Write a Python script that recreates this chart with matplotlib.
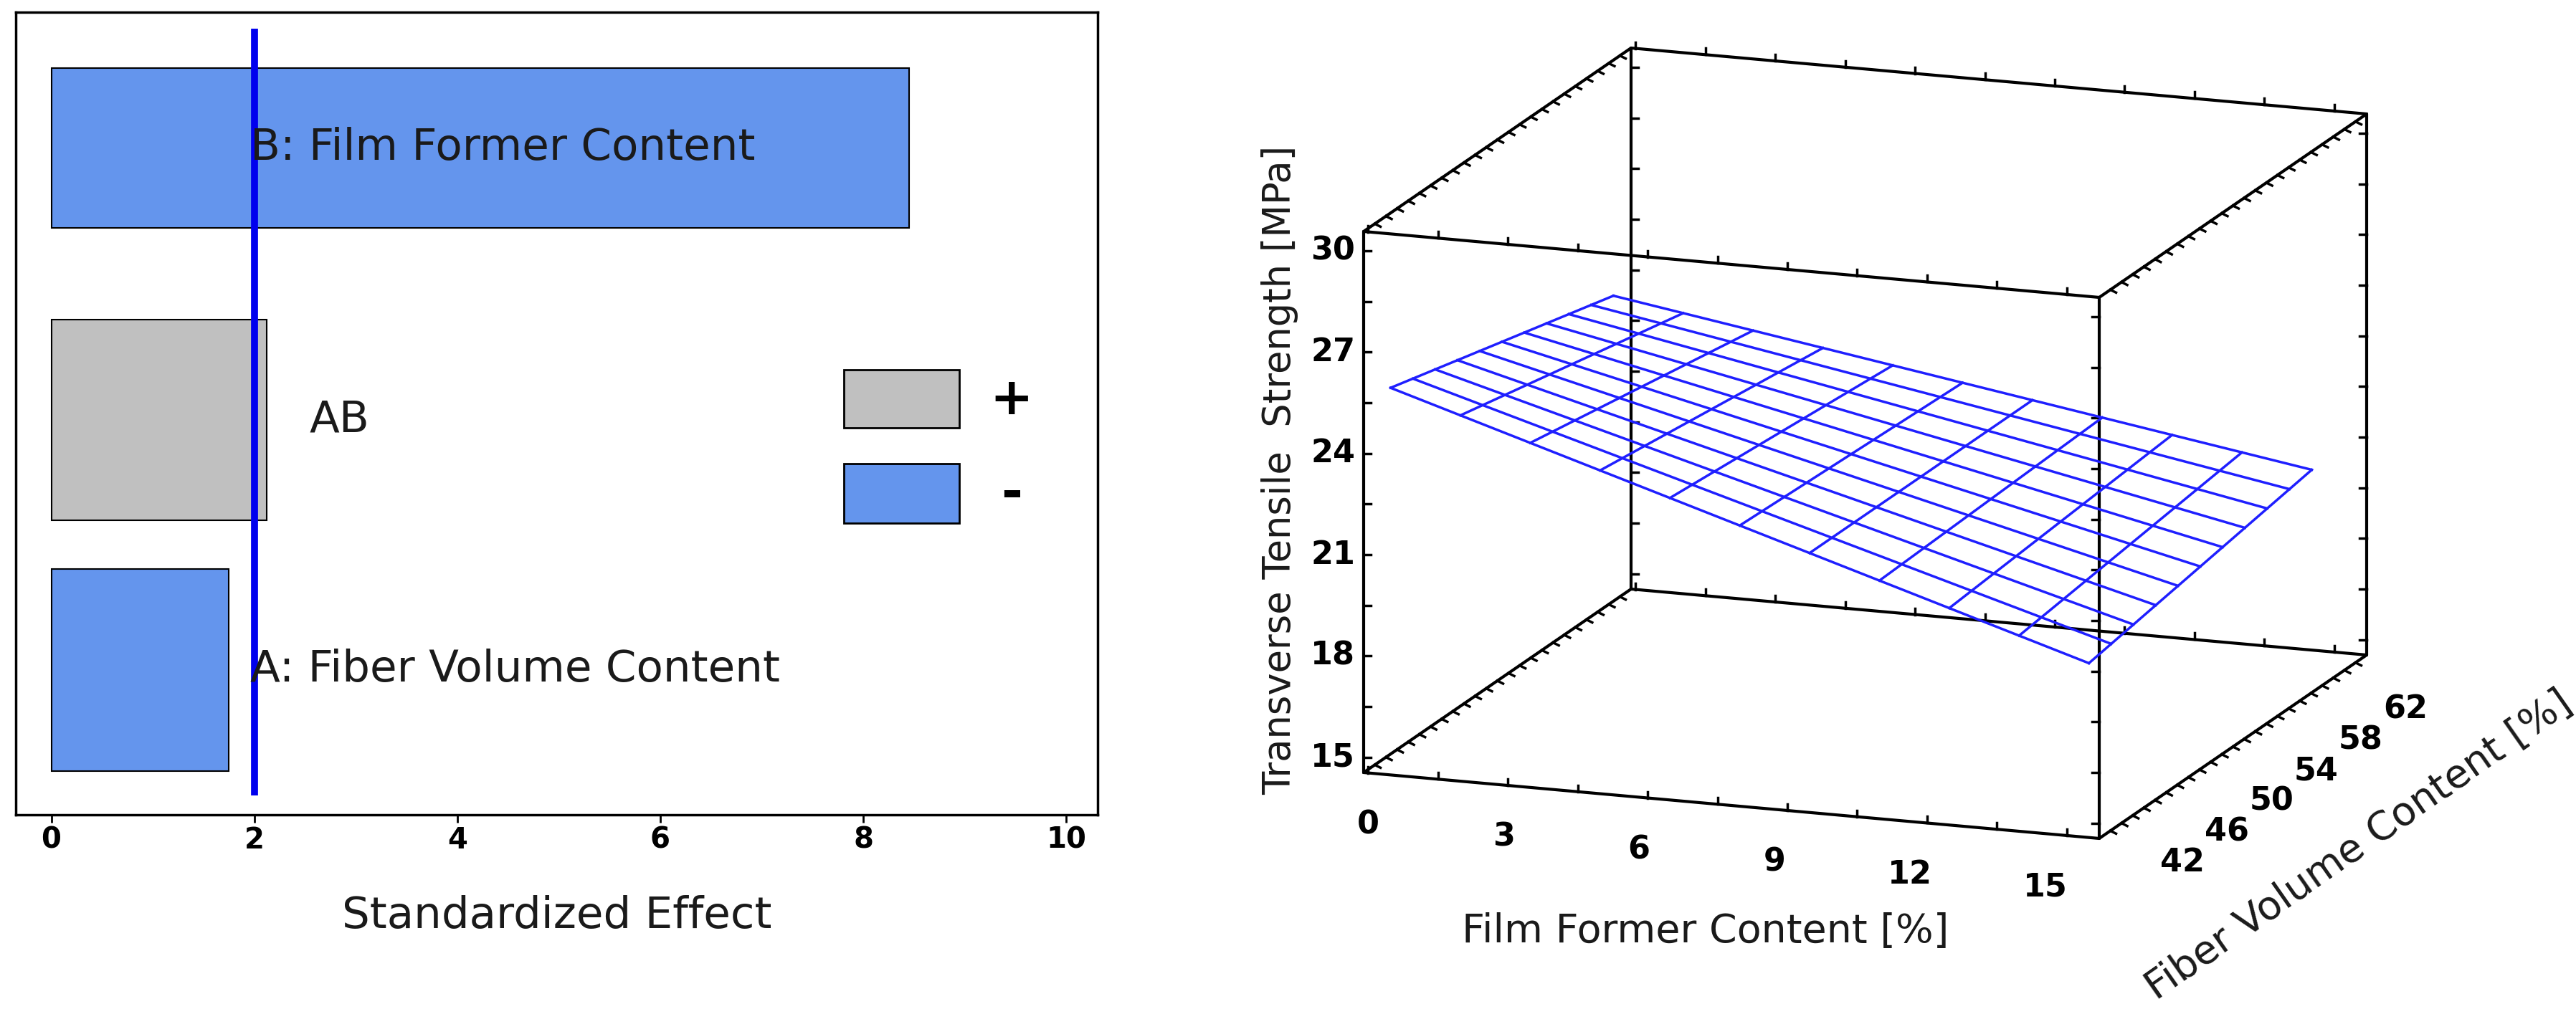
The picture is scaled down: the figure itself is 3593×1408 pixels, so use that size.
import numpy as np
import matplotlib
matplotlib.use('Agg')
from matplotlib import pyplot as plt

# Pareto chart data
effect_names = ['A: Fiber Volume Content', 'AB', 'B: Film Former Content']
effect_values = [1.75, 2.12, 8.45]
effect_signs = ['-', '+', '-']
critical_value = 2.0
effect_ticks = [0, 2, 4, 6, 8, 10]

# Response surface data (corner values of the fitted plane)
film_former = [0, 15]
fiber_volume = [42, 62]
strength_corners = [[25.5, 23.7],   # film former 0: fiber 42, 62
                    [19.2, 20.4]]   # film former 15: fiber 42, 62
film_ticks = [0, 3, 6, 9, 12, 15]
fiber_ticks = [42, 46, 50, 54, 58, 62]
strength_ticks = [15, 18, 21, 24, 27, 30]

BLUE = '#6495ED'
GRAY = '#C0C0C0'
W, H = 3593, 1408

fig = plt.figure(figsize=(W / 100, H / 100), dpi=100)

# ---------------- Left: standardized effect chart ----------------
# axes in pixel rows: top 17, bottom 1137
ax = fig.add_axes([22 / W, 1 - 1137 / H, (1531 - 22) / W, (1137 - 17) / H])
ax.set_ylim(1137, 17)
ax.set_xlim(-0.35, 10.31)
bar_rows = [935, 586, 206]
bar_heights = [282, 280, 223]
colors = [BLUE if s == '-' else GRAY for s in effect_signs]
ax.barh(bar_rows, effect_values, height=bar_heights, color=colors,
        edgecolor='black', linewidth=1.5)
ax.vlines(critical_value, 40, 1110, color='#0000EE', linewidth=7)
label_x = [1.96, 2.54, 1.96]
for row, name, lx in zip(bar_rows, effect_names, label_x):
    ax.text(lx, row, name, fontsize=44, va='center', ha='left',
            color='#1a1a1a')
ax.set_yticks([])
ax.set_xticks(effect_ticks)
ax.tick_params(axis='x', labelsize=29, width=2, length=8)
for lab in ax.get_xticklabels():
    lab.set_fontweight('bold')
ax.set_xlabel('Standardized Effect', fontsize=44, labelpad=40,
              color='#1a1a1a')
for sp in ax.spines.values():
    sp.set_linewidth(2.5)

# legend boxes
ax.add_patch(plt.Rectangle((7.81, 516), 1.14, 81, facecolor=GRAY,
                           edgecolor='black', linewidth=2))
ax.add_patch(plt.Rectangle((7.81, 647), 1.14, 83, facecolor=BLUE,
                           edgecolor='black', linewidth=2))
ax.text(9.46, 558, '+', fontsize=52, fontweight='bold', va='center',
        ha='center')
ax.text(9.46, 690, '-', fontsize=52, fontweight='bold', va='center',
        ha='center')

# ---------------- Right: 3D response surface (oblique) ----------------
ax3 = fig.add_axes([0, 0, 1, 1], facecolor='none')
ax3.set_xlim(0, W)
ax3.set_ylim(H, 0)
ax3.axis('off')

XR = (-0.1, 15.7)
YR = (40.0, 64.0)
ZR = (14.55, 30.57)


def proj(x, y, z):
    fx = (x - XR[0]) / (XR[1] - XR[0])
    fy = (y - YR[0]) / (YR[1] - YR[0])
    fz = (z - ZR[0]) / (ZR[1] - ZR[0])
    px = 1902 + fx * 1026 + fy * 373
    py = 1078 - fz * 755 + fx * 92 - fy * 256
    return px, py


def seg(p, q, **kw):
    a = proj(*p)
    b = proj(*q)
    ax3.plot([a[0], b[0]], [a[1], b[1]], **kw)


box_kw = dict(color='black', linewidth=3, solid_capstyle='round')
for x in XR:
    for y in YR:
        seg((x, y, ZR[0]), (x, y, ZR[1]), **box_kw)
for x in XR:
    for z in ZR:
        seg((x, YR[0], z), (x, YR[1], z), **box_kw)
for y in YR:
    for z in ZR:
        seg((XR[0], y, z), (XR[1], y, z), **box_kw)

# small tick marks on box edges
tk = dict(color='black', linewidth=2.5)
for z in np.arange(15, 30.1, 1.5):
    for x, y, d in [(XR[0], YR[0], 1), (XR[1], YR[0], -1),
                    (XR[0], YR[1], 1), (XR[1], YR[1], -1)]:
        a = proj(x, y, z)
        ax3.plot([a[0], a[0] + 10 * d], [a[1], a[1]], **tk)
for y in np.arange(41, 64, 1):
    for x, z in [(XR[0], ZR[0]), (XR[0], ZR[1]), (XR[1], ZR[0]),
                 (XR[1], ZR[1])]:
        a = proj(x, y, z)
        ax3.plot([a[0], a[0] + 8], [a[1], a[1] + 4], **tk)
for x in np.arange(0, 15.1, 1.5):
    for y, z in [(YR[0], ZR[0]), (YR[1], ZR[0]), (YR[1], ZR[1]),
                 (YR[0], ZR[1])]:
        a = proj(x, y, z)
        ax3.plot([a[0], a[0]], [a[1], a[1] - 9], **tk)

# wireframe surface
xs = np.linspace(film_former[0], film_former[1], 11)
ys = np.linspace(fiber_volume[0], fiber_volume[1], 11)
c = np.array(strength_corners)


def plane(x, y):
    u = (x - film_former[0]) / (film_former[1] - film_former[0])
    v = (y - fiber_volume[0]) / (fiber_volume[1] - fiber_volume[0])
    return (c[0, 0] * (1 - u) * (1 - v) + c[1, 0] * u * (1 - v)
            + c[0, 1] * (1 - u) * v + c[1, 1] * u * v)


wire = dict(color='#1F1FFF', linewidth=2.5)
for x in xs:
    pts = [proj(x, y, plane(x, y)) for y in ys]
    ax3.plot([p[0] for p in pts], [p[1] for p in pts], **wire)
for y in ys:
    pts = [proj(x, y, plane(x, y)) for x in xs]
    ax3.plot([p[0] for p in pts], [p[1] for p in pts], **wire)

# tick labels
for z in strength_ticks:
    a = proj(XR[0], YR[0], z)
    ax3.text(a[0] - 12, a[1], str(z), fontsize=32, fontweight='bold',
             ha='right', va='center')
for x in film_ticks:
    a = proj(x, YR[0], ZR[0])
    ax3.text(a[0] - 30 * x / 15, a[1] + 72, str(x), fontsize=32,
             fontweight='bold', ha='center', va='center')
for y in fiber_ticks:
    a = proj(XR[1], y, ZR[0])
    ax3.text(a[0] + 85, a[1] + 55, str(y), fontsize=32, fontweight='bold',
             ha='center', va='center')

ax3.text(2379, 1300, 'Film Former Content [%]', fontsize=40,
         ha='center', va='center', color='#1a1a1a')
ax3.text(1785, 656, 'Transverse Tensile  Strength [MPa]', fontsize=38,
         rotation=90, ha='center', va='center', color='#1a1a1a')
ax3.text(3290, 1180, 'Fiber Volume Content [%]', fontsize=40,
         rotation=35, ha='center', va='center', color='#1a1a1a')

fig.savefig('out.png', dpi=100)
